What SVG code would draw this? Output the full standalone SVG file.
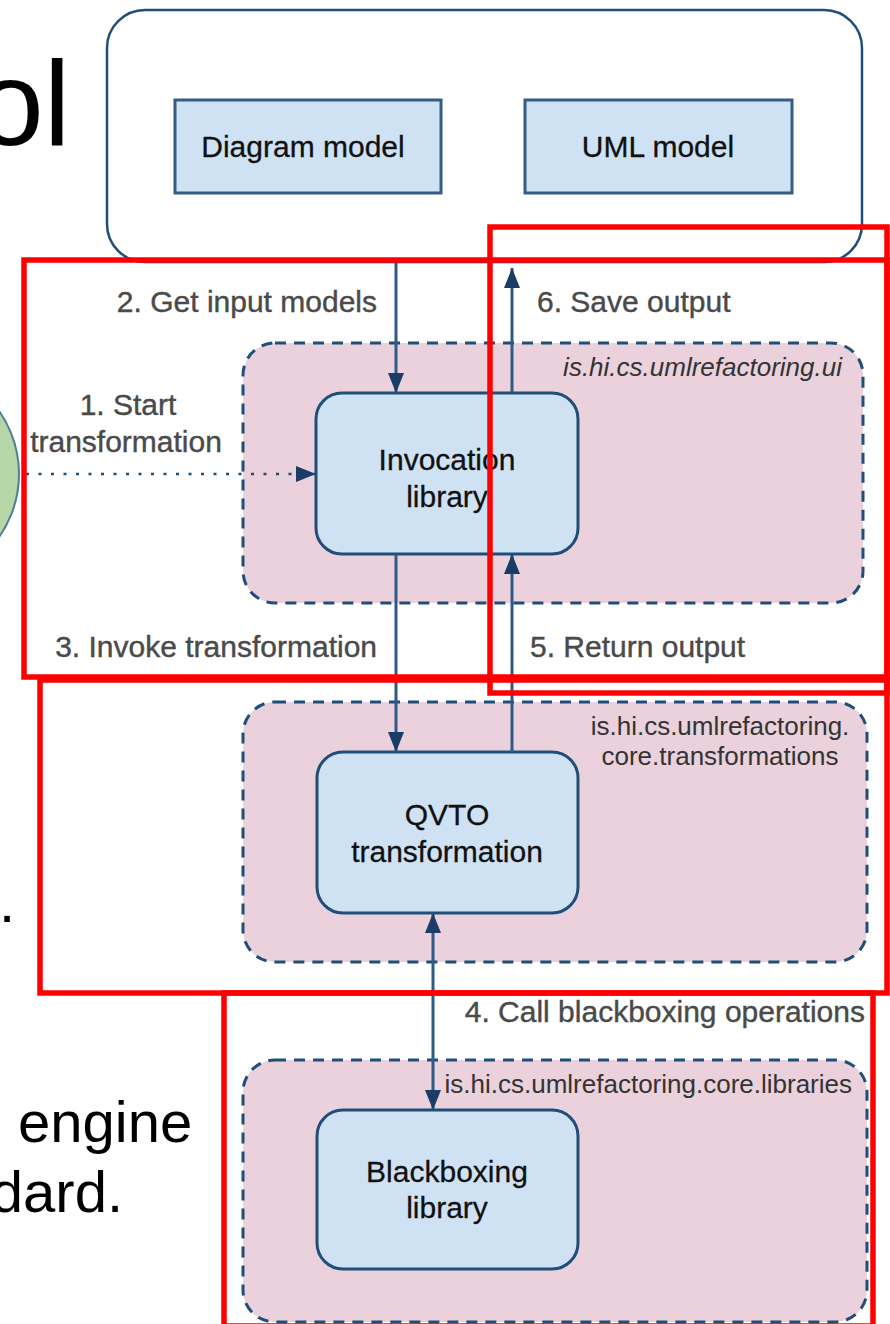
<svg xmlns="http://www.w3.org/2000/svg" width="890" height="1324" viewBox="0 0 890 1324">
  <style>
    .slide { font-family: "Liberation Sans", Arial, sans-serif; fill: #000; }
    .container { fill: #ffffff; stroke: #1f4e79; stroke-width: 2.5; }
    .model { fill: #cfe2f3; stroke: #355d86; stroke-width: 3; }
    .pkg { fill: #ead1dc; stroke: #1f4e79; stroke-width: 3; stroke-dasharray: 11 8; }
    .comp { fill: #cfe2f3; stroke: #1f4e79; stroke-width: 3; }
    .name { font-family: "Liberation Sans", Arial, sans-serif; font-size: 30px; fill: #111; text-anchor: middle; stroke: #111; stroke-width: 0.3; }
    .pkgname { font-family: "Liberation Sans", Arial, sans-serif; font-size: 26px; fill: #333; }
    .step { font-family: "Liberation Sans", Arial, sans-serif; font-size: 30px; fill: #4a4a4a; stroke: #4a4a4a; stroke-width: 0.4; }
    .flow { fill: none; stroke: #2f5a85; stroke-width: 3; }
    .dotted { fill: none; stroke: #1f4e79; stroke-width: 2.5; stroke-dasharray: 3 9.5; }
    .frame { fill: none; stroke: #ff0000; stroke-width: 5.5; }
  </style>
  <defs>
    <marker id="head" viewBox="0 0 20 16" refX="20" refY="8" markerWidth="20" markerHeight="16" markerUnits="userSpaceOnUse" orient="auto-start-reverse">
      <path d="M0,0 L20,8 L0,16 Z" fill="#1a3d68"/>
    </marker>
  </defs>

  <rect width="890" height="1324" fill="#ffffff"/>

  <!-- slide text behind the diagram -->
  <g id="slide-text">
    <text class="slide" x="-23" y="145" font-size="120">ol</text>
    <text class="slide" x="-1" y="922" font-size="58">.</text>
    <text class="slide" x="18" y="1142" font-size="58">engine</text>
    <text class="slide" x="123" y="1212" font-size="58" text-anchor="end">dard.</text>
  </g>

  <!-- actor -->
  <g id="user">
    <circle cx="-91" cy="474" r="110" fill="#b6d7a8" stroke="#4f7f98" stroke-width="2"/>
  </g>

  <!-- editor holding the models -->
  <g id="editor">
    <rect class="container" x="107" y="10" width="755" height="252" rx="38" ry="38"/>
  </g>
  <g id="diagram-model">
    <rect class="model" x="175" y="100" width="266" height="93"/>
    <text class="name" x="303" y="157">Diagram model</text>
  </g>
  <g id="uml-model">
    <rect class="model" x="525" y="100" width="267" height="93"/>
    <text class="name" x="658" y="157">UML model</text>
  </g>

  <!-- packages -->
  <g id="pkg-ui">
    <rect class="pkg" x="243" y="343" width="620" height="260" rx="32" ry="32"/>
    <text class="pkgname" x="842" y="376" text-anchor="end" font-style="italic">is.hi.cs.umlrefactoring.ui</text>
  </g>
  <g id="pkg-transformations">
    <rect class="pkg" x="243" y="702" width="624" height="260" rx="32" ry="32"/>
    <text class="pkgname" x="720" y="735" text-anchor="middle">is.hi.cs.umlrefactoring.</text>
    <text class="pkgname" x="720" y="765" text-anchor="middle">core.transformations</text>
  </g>
  <g id="pkg-libraries">
    <rect class="pkg" x="243" y="1060" width="624" height="262" rx="32" ry="32"/>
    <text class="pkgname" x="852" y="1093" text-anchor="end">is.hi.cs.umlrefactoring.core.libraries</text>
  </g>

  <!-- components -->
  <g id="invocation-library">
    <rect class="comp" x="316" y="393" width="262" height="161" rx="26" ry="26"/>
    <text class="name" x="447" y="470">Invocation</text>
    <text class="name" x="447" y="507">library</text>
  </g>
  <g id="qvto-transformation">
    <rect class="comp" x="317" y="752" width="261" height="161" rx="26" ry="26"/>
    <text class="name" x="447" y="825">QVTO</text>
    <text class="name" x="447" y="862">transformation</text>
  </g>
  <g id="blackboxing-library">
    <rect class="comp" x="317" y="1110" width="261" height="159" rx="26" ry="26"/>
    <text class="name" x="447" y="1182">Blackboxing</text>
    <text class="name" x="447" y="1218">library</text>
  </g>

  <!-- connectors -->
  <g id="connectors">
    <line class="dotted" x1="26" y1="474" x2="316" y2="474" marker-end="url(#head)"/>
    <line class="flow" x1="396" y1="263" x2="396" y2="393" marker-end="url(#head)"/>
    <line class="flow" x1="512" y1="393" x2="512" y2="268" marker-end="url(#head)"/>
    <line class="flow" x1="396" y1="554" x2="396" y2="752" marker-end="url(#head)"/>
    <line class="flow" x1="512" y1="752" x2="512" y2="554" marker-end="url(#head)"/>
    <line class="flow" x1="433" y1="913" x2="433" y2="1110" marker-start="url(#head)" marker-end="url(#head)"/>
  </g>

  <!-- step labels -->
  <g id="step-labels">
    <text class="step" x="128" y="415" text-anchor="middle">1. Start</text>
    <text class="step" x="126" y="452" text-anchor="middle">transformation</text>
    <text class="step" x="377" y="312" text-anchor="end">2. Get input models</text>
    <text class="step" x="537" y="312">6. Save output</text>
    <text class="step" x="377" y="657" text-anchor="end">3. Invoke transformation</text>
    <text class="step" x="530" y="657">5. Return output</text>
    <text class="step" x="865" y="1022" text-anchor="end">4. Call blackboxing operations</text>
  </g>

  <!-- highlight frames -->
  <g id="frames">
    <rect class="frame" x="24" y="260" width="863" height="417"/>
    <rect class="frame" x="490" y="227" width="397" height="466"/>
    <rect class="frame" x="40" y="680" width="847" height="313"/>
    <rect class="frame" x="224" y="993" width="649" height="333"/>
  </g>
</svg>
